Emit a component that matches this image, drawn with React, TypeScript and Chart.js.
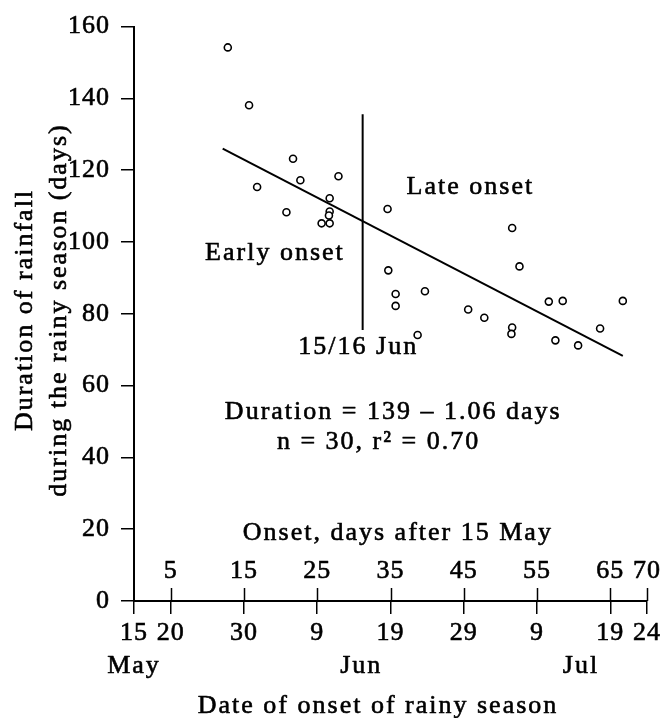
import { useEffect, useRef } from 'react';
import { Chart, registerables } from 'chart.js';

Chart.register(...registerables);

// Onset (days after 15 May) and duration of rainfall (days), 30 seasons
const onsetDays = [
  12.8, 15.7, 21.7, 16.8, 22.7, 27.9, 26.7, 20.8, 26.7, 26.6, 25.6, 26.7,
  34.6, 34.7, 35.7, 35.7, 39.7, 38.7, 51.6, 52.6, 45.6, 47.8, 51.6, 51.5,
  56.6, 58.5, 66.7, 63.6, 57.5, 60.6,
];
const durationDays = [
  154.2, 138.1, 123.2, 115.3, 117.2, 118.3, 112.2, 108.3, 108.5, 107.4, 105.2, 105.2,
  109.2, 92.1, 85.5, 82.2, 86.3, 74.1, 103.9, 93.2, 81.2, 78.9, 76.2, 74.4,
  83.4, 83.6, 83.6, 75.9, 72.6, 71.2,
];

// Regression line: Duration = 139 - 1.06 days (end points)
const fitOnset = [12.1, 66.7];
const fitDuration = [126.0, 68.3];

// Split between early and late onset (15/16 Jun)
const splitOnset = [31.2, 31.2];
const splitDuration = [135.6, 75.5];

// Axis ticks
const xTickDays = [0, 5, 15, 25, 35, 45, 55, 65, 70];
const dateLabels = ['15', '20', '30', '9', '19', '29', '9', '19', '24'];
const topTickDays = [5, 15, 25, 35, 45, 55, 65, 70];
const topTickLabels = ['5', '15', '25', '35', '45', '55', '65', '70'];
const monthLabels = ['May', 'Jun', 'Jul'];
const monthDays = [0, 31, 61];
const yTickValues = [0, 20, 40, 60, 80, 100, 120, 140, 160];

const FAMILY = '"Liberation Serif", "Times New Roman", serif';
const FONT = '26px ' + FAMILY;

function text(ctx: CanvasRenderingContext2D, s: string, x: number, y: number) {
  ctx.strokeText(s, x, y);
  ctx.fillText(s, x, y);
}

const decorPlugin = {
  id: 'decor',
  beforeDraw(chart: any) {
    chart.ctx.letterSpacing = '1px';
  },
  afterDraw(chart: any) {
    const ctx = chart.ctx as CanvasRenderingContext2D;
    const xs = chart.scales.x;
    const ys = chart.scales.y;
    const axisY = ys.getPixelForValue(0);
    ctx.save();
    ctx.fillStyle = '#000';
    ctx.strokeStyle = '#000';
    ctx.font = FONT;

    // upward halves of x tick marks
    ctx.lineWidth = 1.5;
    topTickDays.forEach((d) => {
      const px = Math.round(xs.getPixelForValue(d)) + 0.5;
      ctx.beginPath();
      ctx.moveTo(px, axisY);
      ctx.lineTo(px, axisY - 13);
      ctx.stroke();
    });

    ctx.lineWidth = 0.6;
    ctx.lineJoin = 'round';

    // labels above the axis (days after 15 May)
    ctx.letterSpacing = '1px';
    ctx.textAlign = 'center';
    ctx.textBaseline = 'alphabetic';
    topTickDays.forEach((d, i) => {
      text(ctx, topTickLabels[i], xs.getPixelForValue(d), axisY - 23);
    });

    ctx.letterSpacing = '2px';
    text(ctx, 'Onset, days after 15 May', xs.getPixelForValue(36), axisY - 61);

    // month names
    monthDays.forEach((d, i) => {
      text(ctx, monthLabels[i], xs.getPixelForValue(d), axisY + 72);
    });
    text(ctx, 'Date of onset of rainy season', xs.getPixelForValue(33.3), axisY + 112);

    // y title (two lines, rotated)
    const midY = 310;
    ctx.save();
    ctx.translate(32, midY);
    ctx.rotate(-Math.PI / 2);
    text(ctx, 'Duration of rainfall', 0, 0);
    ctx.restore();
    ctx.save();
    ctx.translate(66, midY);
    ctx.rotate(-Math.PI / 2);
    text(ctx, 'during the rainy season (days)', 0, 0);
    ctx.restore();

    // annotations in the plot
    ctx.textAlign = 'left';
    text(ctx, 'Late onset', xs.getPixelForValue(37.2), ys.getPixelForValue(113.3));
    text(ctx, 'Early onset', xs.getPixelForValue(9.7), ys.getPixelForValue(95.1));
    ctx.textAlign = 'center';
    text(ctx, '15/16 Jun', xs.getPixelForValue(30.6), ys.getPixelForValue(68.7));
    ctx.textAlign = 'left';
    text(ctx, 'Duration = 139 \u2013 1.06 days', xs.getPixelForValue(12.4), ys.getPixelForValue(50.6));
    text(ctx, 'n = 30, r\u00B2 = 0.70', xs.getPixelForValue(19.5), ys.getPixelForValue(42.3));
    ctx.restore();
  },
};

export default function App() {
  const ref = useRef<HTMLCanvasElement>(null);

  useEffect(() => {
    if (!ref.current) return;
    const points = onsetDays.map((d, i) => ({ x: d, y: durationDays[i] }));
    const fit = fitOnset.map((d, i) => ({ x: d, y: fitDuration[i] }));
    const split = splitOnset.map((d, i) => ({ x: d, y: splitDuration[i] }));

    const tickFont = { family: FAMILY, size: 26 };
    const chart = new Chart(ref.current, {
      type: 'scatter',
      data: {
        datasets: [
          {
            data: points,
            pointStyle: 'circle',
            pointRadius: 3.5,
            pointBackgroundColor: '#fff',
            pointBorderColor: '#000',
            pointBorderWidth: 1.6,
            showLine: false,
            order: 0,
          } as any,
          {
            type: 'line',
            data: fit,
            borderColor: '#000',
            borderWidth: 2,
            pointRadius: 0,
            fill: false,
            order: 1,
          } as any,
          {
            type: 'line',
            data: split,
            borderColor: '#000',
            borderWidth: 2,
            pointRadius: 0,
            fill: false,
            order: 2,
          } as any,
        ],
      },
      options: {
        responsive: false,
        animation: false,
        devicePixelRatio: 1,
        layout: { padding: { left: 0, right: 19, top: 23, bottom: 0 } },
        plugins: {
          legend: { display: false },
          tooltip: { enabled: false },
        },
        scales: {
          x: {
            type: 'linear',
            position: 'bottom',
            min: 0,
            max: 70,
            afterFit: (s: any) => {
              s.height = 117;
            },
            afterBuildTicks: (s: any) => {
              s.ticks = xTickDays.map((v) => ({ value: v }));
            },
            ticks: {
              autoSkip: false,
              maxRotation: 0,
              minRotation: 0,
              padding: 4,
              color: '#000',
              textStrokeColor: '#000',
              textStrokeWidth: 0.6,
              font: tickFont,
              callback: (v: any) => {
                const i = xTickDays.indexOf(Number(v));
                return i >= 0 ? dateLabels[i] : '';
              },
            },
            grid: {
              display: true,
              drawOnChartArea: false,
              drawTicks: true,
              tickLength: 13,
              color: '#000',
              lineWidth: 1.5,
            },
            border: { display: true, color: '#000', width: 2 },
          },
          y: {
            type: 'linear',
            min: 0,
            max: 160,
            afterFit: (s: any) => {
              s.width = 134;
            },
            afterBuildTicks: (s: any) => {
              s.ticks = yTickValues.map((v) => ({ value: v }));
            },
            ticks: {
              padding: 11,
              color: '#000',
              textStrokeColor: '#000',
              textStrokeWidth: 0.6,
              font: tickFont,
            },
            grid: {
              display: true,
              drawOnChartArea: false,
              drawTicks: true,
              tickLength: 13,
              color: '#000',
              lineWidth: 1.5,
            },
            border: { display: true, color: '#000', width: 2 },
          },
        },
      },
      plugins: [decorPlugin],
    });
    return () => chart.destroy();
  }, []);

  return (
    <div style={{ position: 'absolute', left: 0, top: 0, width: 666, height: 718, background: '#fff' }}>
      <canvas ref={ref} width={666} height={718} style={{ width: 666, height: 718, display: 'block' }} />
    </div>
  );
}
